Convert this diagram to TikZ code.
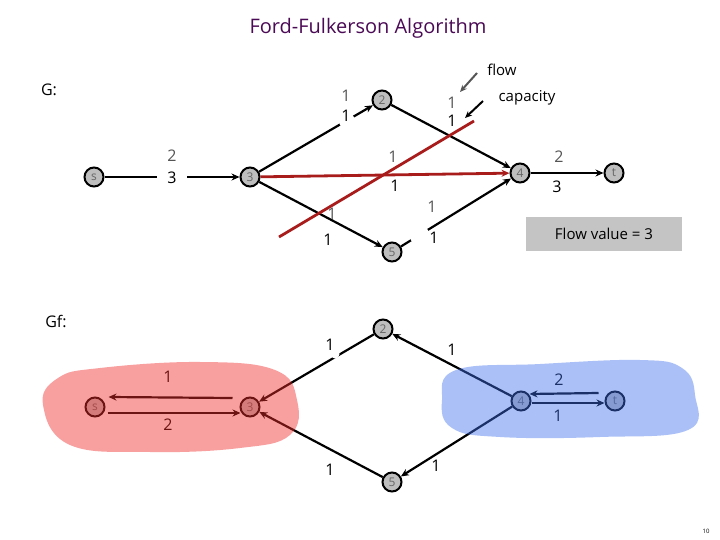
\documentclass[tikz,border=0pt]{standalone}
\usepackage{fontspec}
\setmainfont{Open Sans}
\usetikzlibrary{arrows.meta}
\definecolor{titlec}{HTML}{4B0A55}
\definecolor{flowc}{HTML}{555555}
\definecolor{redl}{HTML}{A81C1C}
\definecolor{nodefill}{HTML}{BEBEBE}
\definecolor{redblob}{HTML}{F02C2C}
\definecolor{blueblob}{HTML}{3D6FEA}
\definecolor{boxgray}{HTML}{C4C4C4}
\begin{document}
\begin{tikzpicture}[x=1pt,y=-1pt,
  vert/.style={circle, draw=black, line width=2pt, fill=nodefill, minimum size=19pt, inner sep=0pt, font=\fontsize{12}{12}\selectfont, text=black!60},
  conn/.style={line width=2.2pt, -{Stealth[length=8pt,width=7pt]}},
  flowlab/.style={text=flowc, font=\fontsize{16}{16}\selectfont, inner sep=1pt},
  caplab/.style={text=black, font=\fontsize{16}{16}\selectfont, inner sep=1pt},
  gapnode/.style={circle, fill=white, inner sep=0pt, minimum size=#1},
  plain/.style={font=\fontsize{16}{16}\selectfont, inner sep=0pt},
]
\useasboundingbox (0,0) rectangle (720,540);
% title
\node[text=titlec, font=\fontsize{20}{20}\selectfont] (title) at (368,28) {Ford-Fulkerson Algorithm};
\node[plain] (G) at (49,90) {G:};
\node[plain] (Gf) at (56,321) {Gf:};
\node[plain, font=\fontsize{15}{15}\selectfont] (flowt) at (502,70) {flow};
\node[plain, font=\fontsize{15}{15}\selectfont] (capt) at (527,98) {capacity};
\coordinate (fa) at (477,73); \coordinate (fb) at (460,92);
\coordinate (ca) at (483,101); \coordinate (cb) at (465,118);
\draw[line width=2pt, draw=flowc, -{Stealth[length=7pt,width=6pt]}] (fa) -- (fb);
\draw[line width=2pt, -{Stealth[length=7pt,width=6pt]}] (ca) -- (cb);

% top graph nodes
\node[vert] (s1) at (94,177) {s};
\node[vert] (n3) at (250,177) {3};
\node[vert] (n2) at (382,100) {2};
\node[vert] (n4) at (520,173) {4};
\node[vert] (n5) at (392,252) {5};
\node[vert] (t1) at (614,173) {t};

% top edges
\draw[conn] (s1) -- (n3);
\draw[conn] (n3) -- (n2);
\draw[conn] (n2) -- (n4);
\draw[conn] (n3) -- (n5);
\draw[conn] (n5) -- (n4);
\draw[conn] (n4) -- (t1);
\draw[conn, draw=redl, line width=2.8pt] (n3) -- (n4);
\coordinate (ra) at (279,237); \coordinate (rb) at (474,121);
\draw[redl, line width=2.8pt] (ra) -- (rb);
\node[gapnode=16pt] (g1) at (347,121) {};
\node[gapnode=20pt] (g2) at (420,236) {};

% top labels
\node[caplab, fill=white, inner xsep=10pt] (l1c) at (172,178) {3};
\node[flowlab] (l1f) at (172,156) {2};
\node[flowlab] (l2f) at (346,96) {1};
\node[caplab] (l2c) at (346,116) {1};
\node[flowlab] (l3f) at (452,103) {1};
\node[caplab] (l3c) at (452,121) {1};
\node[flowlab] (l4f) at (393,157) {1};
\node[caplab] (l4c) at (395,186) {1};
\node[flowlab] (l5f) at (332,214) {1};
\node[caplab] (l5c) at (328,240) {1};
\node[flowlab] (l6f) at (432,207) {1};
\node[caplab] (l6c) at (434,238) {1};
\node[flowlab] (l7f) at (559,157) {2};
\node[caplab] (l7c) at (557,187) {3};

\node[fill=boxgray, minimum width=156pt, minimum height=33pt, inner sep=0pt, font=\fontsize{15}{15}\selectfont] (fv) at (604,234) {Flow value = 3};

% bottom graph nodes
\node[vert] (s2) at (95,407) {s};
\node[vert] (m3) at (250,407) {3};
\node[vert] (m2) at (383,329) {2};
\node[vert] (m4) at (521,401) {4};
\node[vert] (m5) at (392,482) {5};
\node[vert] (t2) at (615,401) {t};

\draw[conn] ([shift={(-7,-9)}]m3.west) -- ([shift={(3,-10)}]s2.east);
\draw[conn] ([shift={(2,6)}]s2.east) -- ([shift={(1,6)}]m3.west);
\draw[conn] (m2) -- (m3);
\draw[conn] (m5) -- (m3);
\draw[conn] (m4) -- (m2);
\draw[conn] (m4) -- (m5);
\draw[conn] ([shift={(-6,-8)}]t2.west) -- ([shift={(-2,-7)}]m4.east);
\draw[conn] ([shift={(0,2)}]m4.east) -- ([shift={(0,2)}]t2.west);
\node[gapnode=9pt] (g3) at (335,354) {};

\node[caplab] (b1) at (168,377) {1};
\node[caplab] (b2) at (168,425) {2};
\node[caplab] (b3) at (330,345) {1};
\node[caplab] (b4) at (330,470) {1};
\node[caplab] (b5) at (452,350) {1};
\node[caplab] (b6) at (436,466) {1};
\node[caplab] (b7) at (559,380) {2};
\node[caplab] (b8) at (558,416) {1};

% blobs (translucent overlays)
\fill[redblob, fill opacity=0.45] plot[smooth cycle, tension=0.7] coordinates {(43,405) (58,378) (100,368) (200,362) (275,370) (297,400) (290,435) (240,448) (150,452) (70,445)};
\fill[blueblob, fill opacity=0.44] plot[smooth cycle, tension=0.7] coordinates {(442,400) (456,370) (540,364) (640,360) (682,368) (695,395) (688,430) (600,437) (500,437) (452,428)};

\node[font=\fontsize{6}{6}\selectfont] (pg) at (706,531) {10};
\end{tikzpicture}
\end{document}
